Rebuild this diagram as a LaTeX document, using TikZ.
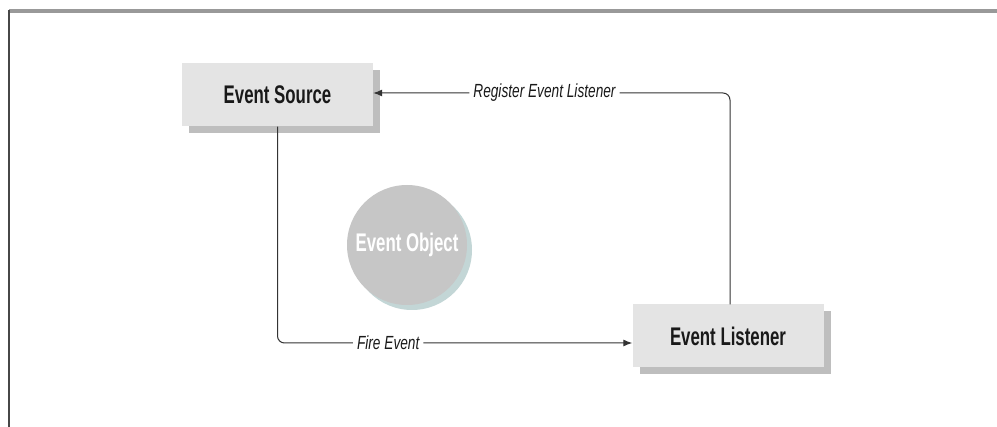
\documentclass[tikz,border=0pt]{standalone}
\usepackage{fontspec}
\setmainfont{Liberation Sans}
\newfontfamily\boxfont[FakeStretch=0.66]{Liberation Sans}
\newfontfamily\labfont[FakeStretch=0.72]{Liberation Sans}
\usetikzlibrary{arrows.meta,shadows,calc}
\definecolor{boxfill}{HTML}{E4E4E4}
\definecolor{boxshadow}{HTML}{BEBEBE}
\definecolor{circfill}{HTML}{C6C6C6}
\definecolor{circshadow}{HTML}{B4CCCC}
\definecolor{linec}{HTML}{333333}
\tikzset{
  boxnode/.style={draw=none, fill=boxfill, minimum width=191pt, minimum height=63pt,
    inner sep=0pt, font=\boxfont\bfseries\fontsize{25.5}{28}\selectfont, text=black!90,
    drop shadow={shadow xshift=7pt, shadow yshift=-7pt, fill=boxshadow, opacity=1}},
  circnode/.style={circle, draw=none, fill=circfill, minimum size=120pt, inner sep=0pt,
    font=\boxfont\bfseries\fontsize{25.5}{28}\selectfont, text=white,
    drop shadow={shadow xshift=5pt, shadow yshift=-5pt, fill=circshadow, opacity=0.8}},
  conn/.style={draw=linec, line width=1pt, rounded corners=7pt,
    -{Latex[length=9pt,width=7pt]}},
  lab/.style={fill=white, inner sep=4pt, font=\labfont\itshape\fontsize{19}{22}\selectfont, text=black!90}
}
\begin{document}
\begin{tikzpicture}[x=1pt,y=-1pt]
\useasboundingbox (0,0) rectangle (997,427);
\fill[white] (0,0) rectangle (997,427);
% frame
\draw[draw=black!40, line width=3.5pt] (9,11) -- (997,11);
\draw[draw=black!72, line width=2.8pt] (9,10) -- (9,427);
% nodes
\node[boxnode] (ES) at (277.5,95) {Event Source};
\node[boxnode] (EL) at (728,336) {Event Listener};
\node[circnode] (EO) at (407,245) {Event Object};
% connectors
\draw[conn] ([xshift=2pt]EL.north) |- ([yshift=2pt]ES.east)
  node[lab, pos=0.76] (rl) {Register Event Listener};
\draw[conn] (ES.south) |- ([yshift=-7pt]EL.west)
  node[lab, pos=0.656] (fe) {Fire Event};
\end{tikzpicture}
\end{document}
